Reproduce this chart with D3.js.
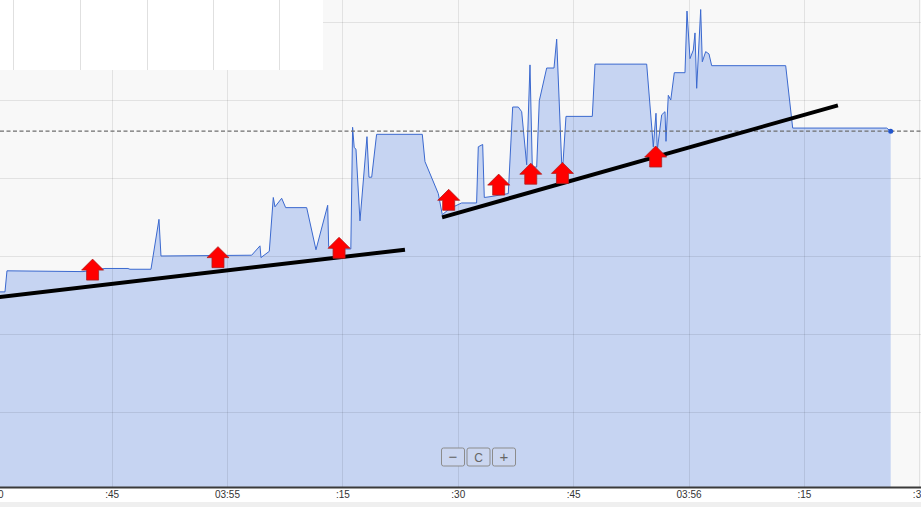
<!DOCTYPE html>
<html>
<head>
<meta charset="utf-8">
<script src="https://cdn.jsdelivr.net/npm/d3@7"></script>
<style>
  html, body { margin: 0; padding: 0; background: #ffffff; }
  svg { display: block; }
</style>
</head>
<body>
<svg id="chart" width="921" height="507"></svg>
<script>
// ---- DATA (seconds after 03:54:00, value) ----
const seconds = [30.49, 31.14, 31.40, 41.28, 44.14, 47.13, 47.39, 50.12, 51.16, 51.42,
  63.21, 64.29, 64.42, 65.50, 66.02, 66.24, 67.11, 67.63, 70.36, 71.57,
  73.09, 73.22, 74.04, 76.10, 76.33, 76.54, 76.77, 77.29, 78.20, 78.46,
  78.81, 79.45, 85.39, 85.74, 87.47, 87.99, 88.99, 90.50, 92.45, 92.67,
  93.24, 93.45, 94.19, 96.57, 97.14, 97.87, 98.31, 98.96, 99.39, 99.69,
  100.26, 100.60, 101.56, 102.51, 102.86, 103.51, 103.68, 104.07, 107.49, 107.84,
  114.56, 115.42, 115.77, 115.94, 116.51, 116.94, 117.07, 117.37, 117.69, 118.15,
  119.54, 119.80, 120.19, 120.62, 120.84, 121.06, 121.58, 121.79, 122.23, 122.66,
  123.01, 132.63, 133.54, 145.76, 146.28];
const values = [25.4, 25.4, 28.1, 28.0, 28.4, 28.4, 28.3, 28.3, 34.7, 30.0,
  30.1, 31.3, 29.8, 30.6, 37.5, 36.3, 37.4, 36.2, 36.2, 30.8,
  36.5, 31.2, 30.9, 30.9, 46.5, 43.9, 43.7, 34.5, 45.3, 40.1,
  40.1, 45.6, 45.6, 42.1, 38.0, 35.3, 36.1, 36.8, 36.8, 44.0,
  44.3, 37.5, 37.6, 38.0, 49.1, 49.1, 48.5, 41.7, 54.5, 41.4,
  41.4, 49.9, 54.1, 54.1, 57.8, 41.9, 41.9, 47.9, 47.9, 54.6,
  54.6, 44.0, 48.3, 43.6, 48.1, 48.5, 44.7, 50.6, 50.0, 53.5,
  53.5, 61.4, 55.3, 56.4, 58.6, 51.5, 61.6, 54.9, 56.2, 55.9,
  54.4, 54.4, 46.4, 46.4, 46.0];
const lastValue = 46;

// trend lines: [startSec, startVal, endSec, endVal]
const trendLines = [
  [30.0, 24.7, 83.14, 30.81],
  [87.96, 34.96, 139.42, 49.32]
];
// up-arrow markers (tip position)
const arrowSeconds = [42.53, 58.83, 74.57, 88.82, 95.32, 99.49, 103.61, 115.73];
const arrowValues  = [29.6, 31.2, 32.4, 38.55, 40.5, 41.9, 42.0, 44.1];

// x ticks every 15 s
const tickSeconds = [30, 45, 60, 75, 90, 105, 120, 135, 150];
const gridValues = [10, 20, 30, 40, 50, 60];

// ---- SETUP ----
const W = 921, H = 507, plotBottom = 487;
const base = new Date(2024, 0, 1, 3, 54, 0).getTime();
const toDate = s => new Date(base + s * 1000);

const x = d3.scaleTime().domain([toDate(30.494), toDate(150.22)]).range([0, W]);
const y = d3.scaleLinear().domain([0, 62.82]).range([490, 0]);

const svg = d3.select("#chart");
const defs = svg.append("defs");
defs.append("clipPath").attr("id", "plotclip")
  .append("rect").attr("x", 0).attr("y", 0).attr("width", W).attr("height", plotBottom);

// backgrounds
svg.append("rect").attr("x", 0).attr("y", 0).attr("width", W).attr("height", H).attr("fill", "#ffffff");
svg.append("rect").attr("x", 0).attr("y", 502).attr("width", W).attr("height", 5).attr("fill", "#efefef");
svg.append("rect").attr("x", 0).attr("y", 0).attr("width", W).attr("height", plotBottom).attr("fill", "#f8f8f8");

const plot = svg.append("g").attr("clip-path", "url(#plotclip)");

const pts = seconds.map((s, i) => ({ t: toDate(s), v: values[i] }));

// area fill
plot.append("path").datum(pts)
  .attr("fill", "#c6d4f2")
  .attr("d", d3.area().x(d => x(d.t)).y0(plotBottom).y1(d => y(d.v)));

// grid on top (subtle)
const grid = plot.append("g");
grid.selectAll("line.h").data(gridValues).join("line")
  .attr("x1", 0).attr("x2", W)
  .attr("y1", d => Math.round(y(d)) + 0.5).attr("y2", d => Math.round(y(d)) + 0.5)
  .attr("stroke", "rgba(0,0,0,0.085)").attr("stroke-width", 1);
grid.selectAll("line.v").data(tickSeconds).join("line")
  .attr("x1", d => Math.round(x(toDate(d))) + 0.5).attr("x2", d => Math.round(x(toDate(d))) + 0.5)
  .attr("y1", 0).attr("y2", plotBottom)
  .attr("stroke", "rgba(0,0,0,0.085)").attr("stroke-width", 1);

// white overlay box top-left with its own vertical lines
const box = plot.append("g");
box.append("rect").attr("x", 0).attr("y", 0).attr("width", 323).attr("height", 70).attr("fill", "#ffffff");
[13, 80, 147, 213, 279].forEach(px => {
  box.append("line").attr("x1", px + 0.5).attr("x2", px + 0.5).attr("y1", 0).attr("y2", 70)
    .attr("stroke", "#e0e0e0").attr("stroke-width", 1);
});

// line
plot.append("path").datum(pts)
  .attr("fill", "none").attr("stroke", "#3b69cf").attr("stroke-width", 1)
  .attr("stroke-linejoin", "round")
  .attr("d", d3.line().x(d => x(d.t)).y(d => y(d.v)));

// last value dashed line
plot.append("line")
  .attr("x1", 0).attr("x2", W)
  .attr("y1", y(lastValue)).attr("y2", y(lastValue))
  .attr("stroke", "#6e6e6e").attr("stroke-width", 1.2).attr("stroke-dasharray", "4,2.5");

// end dot
const lastPt = pts[pts.length - 1];
plot.append("circle").attr("cx", x(lastPt.t)).attr("cy", y(lastPt.v)).attr("r", 2.5).attr("fill", "#2255cc");

// trend lines
plot.selectAll("line.trend").data(trendLines).join("line")
  .attr("x1", d => x(toDate(d[0]))).attr("y1", d => y(d[1]))
  .attr("x2", d => x(toDate(d[2]))).attr("y2", d => y(d[3]))
  .attr("stroke", "#000000").attr("stroke-width", 4);

// arrows
const arrowPath = "M0,0 L11,11 L6,11 L6,21 L-6,21 L-6,11 L-11,11 Z";
plot.selectAll("path.arrow").data(arrowSeconds).join("path")
  .attr("d", arrowPath)
  .attr("transform", (d, i) => `translate(${x(toDate(d))},${y(arrowValues[i])})`)
  .attr("fill", "#ff0000").attr("stroke", "#b02020").attr("stroke-width", 0.8);

// zoom buttons
const btnLabels = ["−", "C", "+"];
const btns = svg.append("g").attr("transform", "translate(441,447.5)");
btnLabels.forEach((lab, i) => {
  const g = btns.append("g").attr("transform", `translate(${i * 25.5},0)`);
  g.append("rect").attr("x", 0.5).attr("y", 0.5).attr("width", 23).attr("height", 18)
    .attr("rx", 2).attr("fill", "#cbd6f0").attr("stroke", "#8c8c8c").attr("stroke-width", 1);
  g.append("text").attr("x", 12).attr("y", 14).attr("text-anchor", "middle")
    .attr("font-family", "Liberation Sans, Arial, sans-serif")
    .attr("font-size", i === 1 ? 12 : 15).attr("fill", "#666").text(lab);
});

// x axis
const fmt = d => d.getSeconds() === 0 ? d3.timeFormat("%H:%M")(d) : d3.timeFormat(":%S")(d);
const axis = d3.axisBottom(x).tickValues(tickSeconds.map(toDate)).tickFormat(fmt).tickSize(0).tickPadding(4);
const ax = svg.append("g").attr("transform", `translate(0,${plotBottom})`).call(axis);
ax.select(".domain").attr("stroke", "#3a3a3a").attr("stroke-width", 2).attr("d", `M0,0.5H${W}`);
ax.selectAll("text").attr("font-family", "Liberation Sans, Arial, sans-serif")
  .attr("font-size", 10).attr("fill", "#333");
</script>
</body>
</html>
